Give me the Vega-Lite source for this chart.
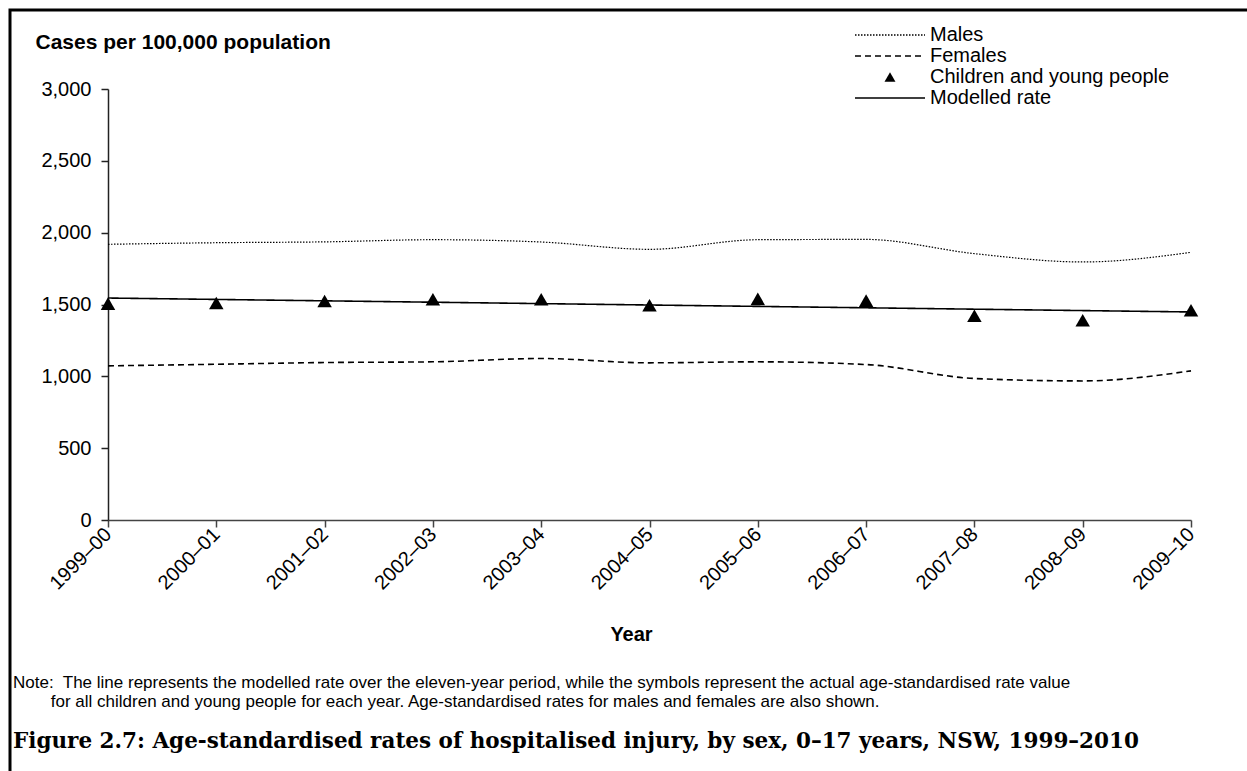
{
  "$schema": "https://vega.github.io/schema/vega-lite/v6.json",
  "width": 1250,
  "height": 775,
  "autosize": {"type": "none"},
  "padding": {"left": 10, "top": 10, "right": 0, "bottom": 0},
  "background": "white",
  "config": {
    "view": {"stroke": "black", "strokeWidth": 3},
    "font": "Liberation Sans",
    "axis": {"labelFont": "Liberation Sans", "titleFont": "Liberation Sans", "labelColor": "black", "titleColor": "black", "grid": false},
    "legend": {"symbolSize": 4900, "symbolType": "stroke", "labelLimit": 500}
  },
  "title": {
    "text": ["Note:\u00a0 The line represents the modelled rate over the eleven-year period, while the symbols represent the actual age-standardised rate value", "\u200b\u00a0\u00a0\u00a0\u00a0\u00a0\u00a0\u00a0\u00a0for all children and young people for each year. Age-standardised rates for males and females are also shown."],
    "subtitle": "Figure 2.7: Age-standardised rates of hospitalised injury, by sex, 0–17 years, NSW, 1999–2010",
    "orient": "bottom",
    "anchor": "start",
    "frame": "group",
    "dx": 3,
    "offset": -110,
    "font": "Liberation Sans",
    "fontSize": 17,
    "fontWeight": "normal",
    "lineHeight": 19,
    "color": "black",
    "subtitleFont": "DejaVu Serif",
    "subtitleFontSize": 21.5,
    "subtitleFontWeight": "bold",
    "subtitleColor": "black",
    "subtitlePadding": 20
  },
  "datasets": {
    "lines": [
      {"year": "1999–00", "series": "Males", "value": 1919},
      {"year": "2000–01", "series": "Males", "value": 1930},
      {"year": "2001–02", "series": "Males", "value": 1936},
      {"year": "2002–03", "series": "Males", "value": 1951},
      {"year": "2003–04", "series": "Males", "value": 1935},
      {"year": "2004–05", "series": "Males", "value": 1884},
      {"year": "2005–06", "series": "Males", "value": 1951},
      {"year": "2006–07", "series": "Males", "value": 1953},
      {"year": "2007–08", "series": "Males", "value": 1854},
      {"year": "2008–09", "series": "Males", "value": 1796},
      {"year": "2009–10", "series": "Males", "value": 1863},
      {"year": "1999–00", "series": "Females", "value": 1073},
      {"year": "2000–01", "series": "Females", "value": 1084},
      {"year": "2001–02", "series": "Females", "value": 1096},
      {"year": "2002–03", "series": "Females", "value": 1101},
      {"year": "2003–04", "series": "Females", "value": 1124},
      {"year": "2004–05", "series": "Females", "value": 1094},
      {"year": "2005–06", "series": "Females", "value": 1101},
      {"year": "2006–07", "series": "Females", "value": 1082},
      {"year": "2007–08", "series": "Females", "value": 985},
      {"year": "2008–09", "series": "Females", "value": 968},
      {"year": "2009–10", "series": "Females", "value": 1038},
      {"year": "1999–00", "series": "Modelled rate", "value": 1545},
      {"year": "2009–10", "series": "Modelled rate", "value": 1448}
    ],
    "children": [
      {"year": "1999–00", "series": "Children and young people", "value": 1506},
      {"year": "2000–01", "series": "Children and young people", "value": 1511},
      {"year": "2001–02", "series": "Children and young people", "value": 1525},
      {"year": "2002–03", "series": "Children and young people", "value": 1536},
      {"year": "2003–04", "series": "Children and young people", "value": 1537},
      {"year": "2004–05", "series": "Children and young people", "value": 1495},
      {"year": "2005–06", "series": "Children and young people", "value": 1539},
      {"year": "2006–07", "series": "Children and young people", "value": 1527},
      {"year": "2007–08", "series": "Children and young people", "value": 1422},
      {"year": "2008–09", "series": "Children and young people", "value": 1390},
      {"year": "2009–10", "series": "Children and young people", "value": 1460}
    ]
  },
  "encoding": {
    "x": {
      "field": "year", "type": "ordinal",
      "scale": {"type": "point", "padding": 0, "range": [98, 1181], "domain": ["1999–00","2000–01","2001–02","2002–03","2003–04","2004–05","2005–06","2006–07","2007–08","2008–09","2009–10"]},
      "axis": {
        "offset": -265,
        "title": "Year", "titleFontSize": 20, "titleFontWeight": "bold", "titleX": 621, "titleY": 120, "titleBaseline": "alphabetic",
        "labelAngle": -45, "labelAlign": "right", "labelBaseline": "middle", "labelFontSize": 20, "labelPadding": 4,
        "domainColor": "#444", "domainWidth": 1.5, "tickColor": "#444", "tickWidth": 1.5, "tickSize": 7
      }
    },
    "y": {
      "field": "value", "type": "quantitative",
      "scale": {"domain": [0, 3000], "nice": false, "zero": true, "range": [510, 79]},
      "axis": {
        "offset": -98,
        "title": "Cases per 100,000 population", "titleAngle": 0, "titleAlign": "left", "titleBaseline": "alphabetic",
        "titleX": -73, "titleY": 38, "titleFontSize": 21, "titleFontWeight": "bold",
        "values": [0, 500, 1000, 1500, 2000, 2500, 3000], "format": ",.0f", "labelFontSize": 20, "labelPadding": 10,
        "domainColor": "#222", "domainWidth": 1.5, "tickColor": "#222", "tickWidth": 1.5, "tickSize": 7
      }
    }
  },
  "layer": [
    {
      "data": {"name": "lines"},
      "mark": {"type": "line", "interpolate": "monotone", "color": "black"},
      "encoding": {
        "strokeDash": {
          "field": "series", "type": "nominal",
          "scale": {"domain": ["Males", "Females", "Children and young people", "Modelled rate"], "range": [[1.5, 1.5], [6, 4], [1, 0], [1, 0]]},
          "legend": {
            "title": null, "orient": "none", "legendX": 870, "legendY": 15,
            "labelFontSize": 20, "labelFont": "Liberation Sans", "labelColor": "black", "labelOffset": 30, "labelLimit": 500,
            "symbolType": "stroke", "symbolSize": 4900, "symbolStrokeColor": "black", "symbolStrokeWidth": 1.3, "rowPadding": 1,
            "encode": {
              "symbols": {
                "update": {
                  "shape": {"signal": "datum.value === 'Children and young people' ? 'triangle-up' : 'stroke'"},
                  "size": {"signal": "datum.value === 'Children and young people' ? 120 : 4900"},
                  "fill": {"signal": "datum.value === 'Children and young people' ? 'black' : 'transparent'"},
                  "stroke": {"value": "black"},
                  "strokeWidth": {"signal": "datum.value === 'Children and young people' ? 0 : 1.3"}
                }
              }
            }
          }
        },
        "strokeWidth": {"condition": {"test": "datum.series === 'Males'", "value": 1.2}, "value": 1.6},
        "detail": {"field": "series"}
      }
    },
    {
      "data": {"name": "children"},
      "mark": {"type": "point", "shape": "triangle-up", "filled": true, "color": "black", "opacity": 1, "size": 210}
    }
  ]
}
